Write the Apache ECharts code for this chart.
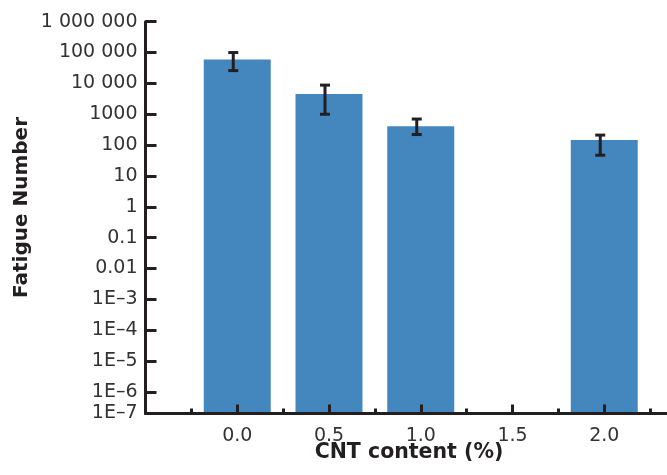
<!DOCTYPE html>
<html>
<head>
<meta charset="utf-8">
<script src="https://cdn.jsdelivr.net/npm/echarts@6/dist/echarts.min.js"></script>
<style>
  html, body { margin: 0; padding: 0; background: #fff; }
  #chart { width: 667px; height: 475px; }
</style>
</head>
<body>
<div id="chart"></div>
<script>
// ---- data ----
const xValues = [0, 0.5, 1.0, 1.5, 2.0];
const xLabels = ['0.0', '0.5', '1.0', '1.5', '2.0'];
const fatigueMean = [60000, 4500, 410, null, 146];
const errLow = [26000, 1000, 220, null, 47];
const errHigh = [100000, 8800, 700, null, 211];
const yTickLabels = ['1E–7', '1E–6', '1E–5', '1E–4', '1E–3', '0.01', '0.1', '1', '10', '100', '1000', '10 000', '100 000', '1 000 000'];
const xTitle = 'CNT content (%)';
const yTitle = 'Fatigue Number';

// ---- styles ----
const Y_MIN_LOG = -6.7;
const Y_MAX_LOG = 6;
const BAR_WIDTH_UNITS = 0.365;
const BAR_COLOR = '#4486be';
const INK = '#231f20';
const LABEL_COLOR = '#333333';
const FONT = 'DejaVu Sans';

const barData = [];
const errData = [];
xValues.forEach((x, i) => {
  if (fatigueMean[i] != null) barData.push([x, Math.log10(fatigueMean[i])]);
  if (errLow[i] != null) errData.push([x, Math.log10(errLow[i]), Math.log10(errHigh[i])]);
});

const chart = echarts.init(document.getElementById('chart'), null, { renderer: 'canvas' });

const option = {
  animation: false,
  backgroundColor: '#ffffff',
  grid: { left: 145.5, right: -29, top: 21.7, bottom: 61.5, containLabel: false, outerBoundsMode: 'none' },
  xAxis: {
    type: 'value', min: -0.5, max: 2.5, interval: 0.5, z: 5,
    axisLine: { show: true, onZero: false, lineStyle: { color: INK, width: 3 } },
    axisTick: { show: true, inside: true, length: 9, lineStyle: { color: INK, width: 3 } },
    minorTick: { show: true, splitNumber: 2, length: 5, lineStyle: { color: INK, width: 3 } },
    splitLine: { show: false }, minorSplitLine: { show: false },
    axisLabel: {
      margin: 13.5, color: LABEL_COLOR, fontFamily: FONT, fontSize: 19,
      showMinLabel: true, showMaxLabel: true,
      formatter: function (v) {
        const i = xValues.findIndex(x => Math.abs(x - v) < 1e-9);
        return i < 0 ? '' : xLabels[i];
      }
    }
  },
  yAxis: {
    type: 'value', min: Y_MIN_LOG, max: Y_MAX_LOG, splitNumber: 13, z: 5,
    axisLine: { show: true, onZero: false, lineStyle: { color: INK, width: 3 } },
    axisTick: { show: true, inside: true, length: 11, lineStyle: { color: INK, width: 3 } },
    splitLine: { show: false },
    axisLabel: {
      margin: 8, color: LABEL_COLOR, fontFamily: FONT, fontSize: 19,
      showMinLabel: true, showMaxLabel: true,
      formatter: function (v) {
        const i = Math.round(v) + 7;
        return yTickLabels[i] || '';
      }
    }
  },
  graphic: [
    {
      type: 'text', x: 22, y: 207.5, rotation: Math.PI / 2,
      style: { text: yTitle, fill: INK, font: 'bold 20px "DejaVu Sans"', align: 'center', verticalAlign: 'middle' }
    },
    {
      type: 'text', x: 409, y: 453,
      style: { text: xTitle, fill: INK, font: 'bold 20.5px "DejaVu Sans"', align: 'center', verticalAlign: 'middle' }
    }
  ],
  series: [
    {
      type: 'custom', z: 2,
      encode: { x: 0, y: 1 },
      data: barData,
      renderItem: function (params, api) {
        const x = api.value(0);
        const top = api.coord([x, api.value(1)]);
        const base = api.coord([x, Y_MIN_LOG]);
        const w = api.size([BAR_WIDTH_UNITS, 0])[0];
        return {
          type: 'rect',
          shape: { x: top[0] - w / 2, y: top[1], width: w, height: base[1] - top[1] },
          style: { fill: BAR_COLOR }
        };
      }
    },
    {
      type: 'custom', z: 3,
      encode: { x: 0, y: [1, 2] },
      data: errData,
      renderItem: function (params, api) {
        const x = api.value(0);
        const lo = api.coord([x, api.value(1)]);
        const hi = api.coord([x, api.value(2)]);
        const cx = lo[0] - 4;
        const cap = 5;
        const st = { stroke: INK, lineWidth: 3 };
        return {
          type: 'group',
          children: [
            { type: 'line', shape: { x1: cx, y1: lo[1], x2: cx, y2: hi[1] }, style: st },
            { type: 'line', shape: { x1: cx - cap, y1: lo[1], x2: cx + cap, y2: lo[1] }, style: st },
            { type: 'line', shape: { x1: cx - cap, y1: hi[1], x2: cx + cap, y2: hi[1] }, style: st }
          ]
        };
      }
    }
  ]
};

chart.setOption(option);
</script>
</body>
</html>
